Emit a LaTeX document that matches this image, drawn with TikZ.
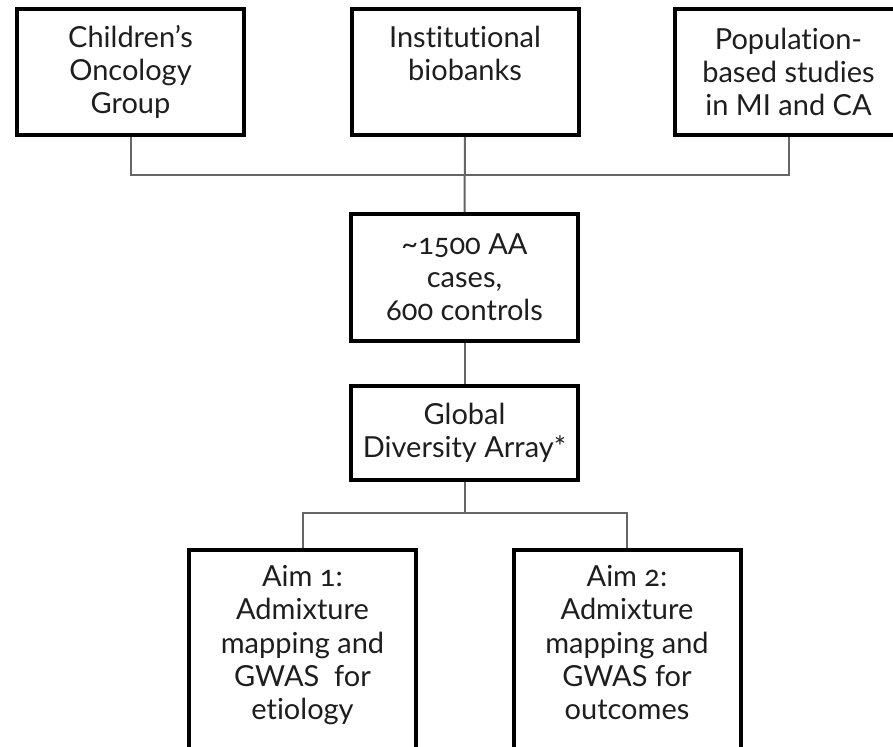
\documentclass[tikz,border=0pt]{standalone}
\usepackage{fontspec}
\setmainfont{Lato}[Numbers=OldStyle, Ligatures={NoCommon}]
\usetikzlibrary{positioning}
\definecolor{linkgray}{HTML}{666666}
\definecolor{inkdark}{HTML}{1E1E1E}
\begin{document}
\begin{tikzpicture}[x=0.5pt, y=-0.5pt]
  \def\boxwidth{113.5pt}
  \def\boxheight{63pt}
  \tikzstyle{box} = [rectangle, draw=black, line width=2pt, text=inkdark, align=center, inner sep=0pt, minimum width=\boxwidth, minimum height=\boxheight, font=\fontsize{14.5pt}{16.6pt}\selectfont]
  \tikzstyle{link} = [draw=linkgray, line width=1pt]

  \clip (0, 0) rectangle (893, 746);

  % sources
  \node[box] (coc) at (130.5, 72) {Children's\\Oncology\\Group};
  \node[box, text depth=19pt] (inst) at (465, 72) {Institutional\\biobanks};
  \node[box] (pop) at (788.5, 72) {Population-\\based studies\\in MI and CA};

  % samples and array
  \node[box, minimum height=63.5pt] (cases) at (464.5, 277.5) {\textasciitilde1500 AA\\cases,\\600 controls};
  \node[box, minimum height=47pt] (gda) at (464.5, 433) {Global\\Diversity Array*};

  % aims
  \node[box, minimum height=115pt, text depth=22.5pt] (aim1) at (302.5, 665) {Aim 1:\\Admixture\\mapping and\\GWAS\ \ for\\etiology};
  \node[box, minimum height=115pt, text depth=22.5pt] (aim2) at (627, 665) {Aim 2:\\Admixture\\mapping and\\GWAS for\\outcomes};

  \coordinate (bus) at (465, 175);
  \coordinate (split) at (464.5, 513);

  \draw[link] (coc.south) |- (bus) -| (pop.south);
  \draw[link] (inst.south) -- (cases.north);
  \draw[link] (cases.south) -- (gda.north);
  \draw[link] (gda.south) -- (split);
  \draw[link] (aim1.north) |- (split) -| (aim2.north);
\end{tikzpicture}
\end{document}
